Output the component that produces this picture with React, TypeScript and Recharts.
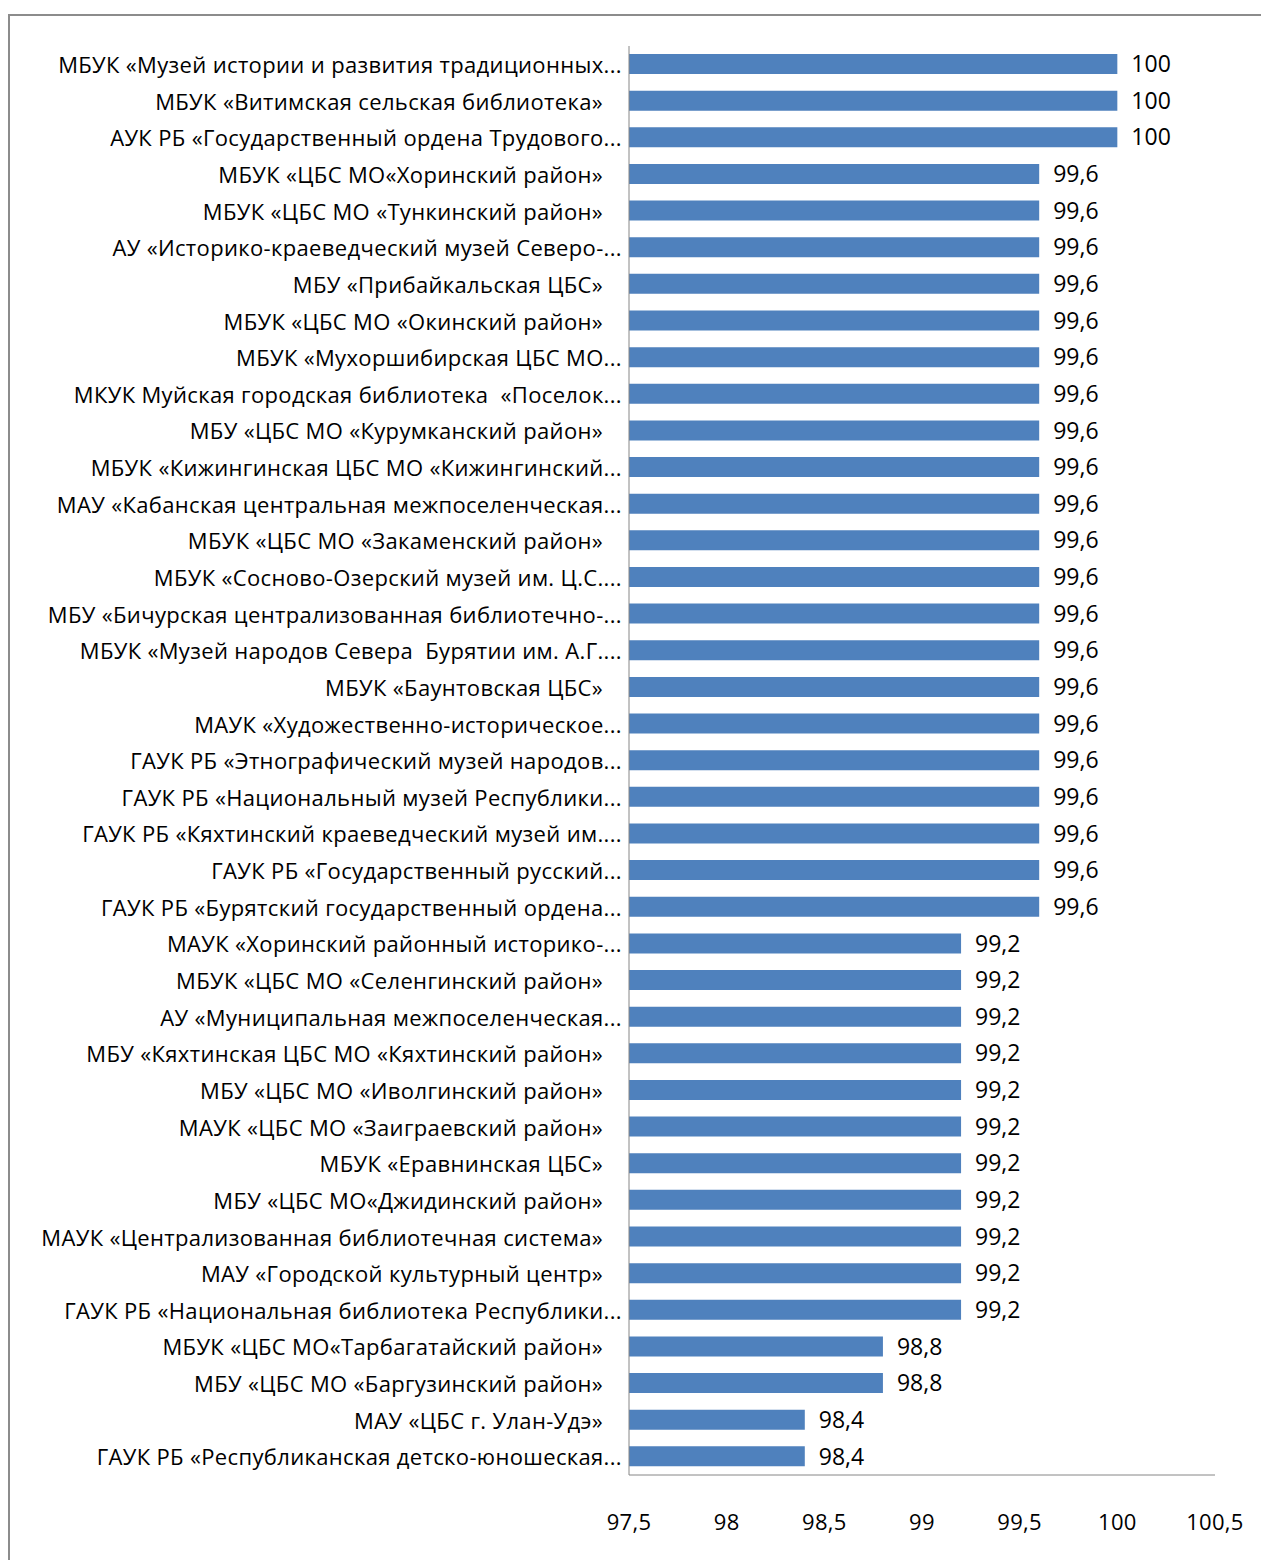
import React from "react";
import { BarChart, Bar, XAxis, YAxis, LabelList } from "recharts";

const categories: string[] = [
  "МБУК «Музей истории и развития традиционных...",
  "МБУК «Витимская сельская библиотека»",
  "АУК РБ «Государственный ордена Трудового...",
  "МБУК «ЦБС МО«Хоринский район»",
  "МБУК «ЦБС МО «Тункинский район»",
  "АУ «Историко-краеведческий музей Северо-...",
  "МБУ «Прибайкальская ЦБС»",
  "МБУК «ЦБС МО «Окинский район»",
  "МБУК «Мухоршибирская ЦБС МО...",
  "МКУК Муйская городская библиотека  «Поселок...",
  "МБУ «ЦБС МО «Курумканский район»",
  "МБУК «Кижингинская ЦБС МО «Кижингинский...",
  "МАУ «Кабанская центральная межпоселенческая...",
  "МБУК «ЦБС МО «Закаменский район»",
  "МБУК «Сосново-Озерский музей им. Ц.С....",
  "МБУ «Бичурская централизованная библиотечно-...",
  "МБУК «Музей народов Севера  Бурятии им. А.Г....",
  "МБУК «Баунтовская ЦБС»",
  "МАУК «Художественно-историческое...",
  "ГАУК РБ «Этнографический музей народов...",
  "ГАУК РБ «Национальный музей Республики...",
  "ГАУК РБ «Кяхтинский краеведческий музей им....",
  "ГАУК РБ «Государственный русский...",
  "ГАУК РБ «Бурятский государственный ордена...",
  "МАУК «Хоринский районный историко-...",
  "МБУК «ЦБС МО «Селенгинский район»",
  "АУ «Муниципальная межпоселенческая...",
  "МБУ «Кяхтинская ЦБС МО «Кяхтинский район»",
  "МБУ «ЦБС МО «Иволгинский район»",
  "МАУК «ЦБС МО «Заиграевский район»",
  "МБУК «Еравнинская ЦБС»",
  "МБУ «ЦБС МО«Джидинский район»",
  "МАУК «Централизованная библиотечная система»",
  "МАУ «Городской культурный центр»",
  "ГАУК РБ «Национальная библиотека Республики...",
  "МБУК «ЦБС МО«Тарбагатайский район»",
  "МБУ «ЦБС МО «Баргузинский район»",
  "МАУ «ЦБС г. Улан-Удэ»",
  "ГАУК РБ «Республиканская детско-юношеская...",
];

const values: number[] = [
  100, 100, 100,
  99.6, 99.6, 99.6, 99.6, 99.6, 99.6, 99.6, 99.6, 99.6, 99.6, 99.6, 99.6,
  99.6, 99.6, 99.6, 99.6, 99.6, 99.6, 99.6, 99.6, 99.6,
  99.2, 99.2, 99.2, 99.2, 99.2, 99.2, 99.2, 99.2, 99.2, 99.2, 99.2,
  98.8, 98.8,
  98.4, 98.4,
];

const xTicks: number[] = [97.5, 98, 98.5, 99, 99.5, 100, 100.5];

const data = categories.map((name, i) => ({ name, value: values[i] }));

const FONT = "'Open Sans', sans-serif";
const fmt = (v: number) => String(v).replace(".", ",");

const YTick = (props: any) => {
  const { x, y, payload } = props;
  const label: string = payload.value;
  const truncated = label.endsWith("...");
  return (
    <text
      x={x - (truncated ? 7 : 26)}
      y={y + 1}
      dy="0.35em"
      textAnchor="end"
      fontFamily={FONT}
      fontSize={22}
      letterSpacing={0.35}
      fill="#000"
      style={{ whiteSpace: "pre" }}
    >
      {label}
    </text>
  );
};

const XTick = (props: any) => {
  const { x, y, payload } = props;
  return (
    <text
      x={x}
      y={y + 47}
      dy="0.35em"
      textAnchor="middle"
      fontFamily={FONT}
      fontSize={22}
      letterSpacing={0.3}
      fill="#000"
    >
      {fmt(payload.value)}
    </text>
  );
};

export default function App() {
  return (
    <div style={{ position: "relative", width: 1261, height: 1552, overflow: "hidden", background: "#fff" }}>
      <div
        style={{
          position: "absolute",
          left: 0,
          top: 6,
          width: 1300,
          height: 1600,
          border: "2px solid #8c8c8c",
          boxSizing: "border-box",
        }}
      />
      <div style={{ position: "absolute", left: 0, top: 0 }}>
        <BarChart
          width={1261}
          height={1552}
          data={data}
          layout="vertical"
          margin={{ top: 38, right: 54, bottom: 25, left: 0 }}
          barSize={20}
        >
          <XAxis
            type="number"
            domain={[97.5, 100.5]}
            ticks={xTicks}
            interval={0}
            allowDataOverflow
            axisLine={{ stroke: "#868686", strokeWidth: 1 }}
            tickLine={false}
            tickSize={0}
            tickMargin={0}
            height={60}
            tick={<XTick />}
          />
          <YAxis
            type="category"
            dataKey="name"
            width={621}
            interval={0}
            axisLine={{ stroke: "#868686", strokeWidth: 1 }}
            tickLine={false}
            tickSize={0}
            tickMargin={0}
            tick={<YTick />}
          />
          <Bar dataKey="value" fill="#4F81BD" isAnimationActive={false}>
            <LabelList
              dataKey="value"
              position="right"
              offset={14}
              formatter={(v: any) => fmt(Number(v))}
              style={{ fontFamily: FONT, fontSize: 23, fill: "#000" }}
            />
          </Bar>
        </BarChart>
      </div>
    </div>
  );
}
